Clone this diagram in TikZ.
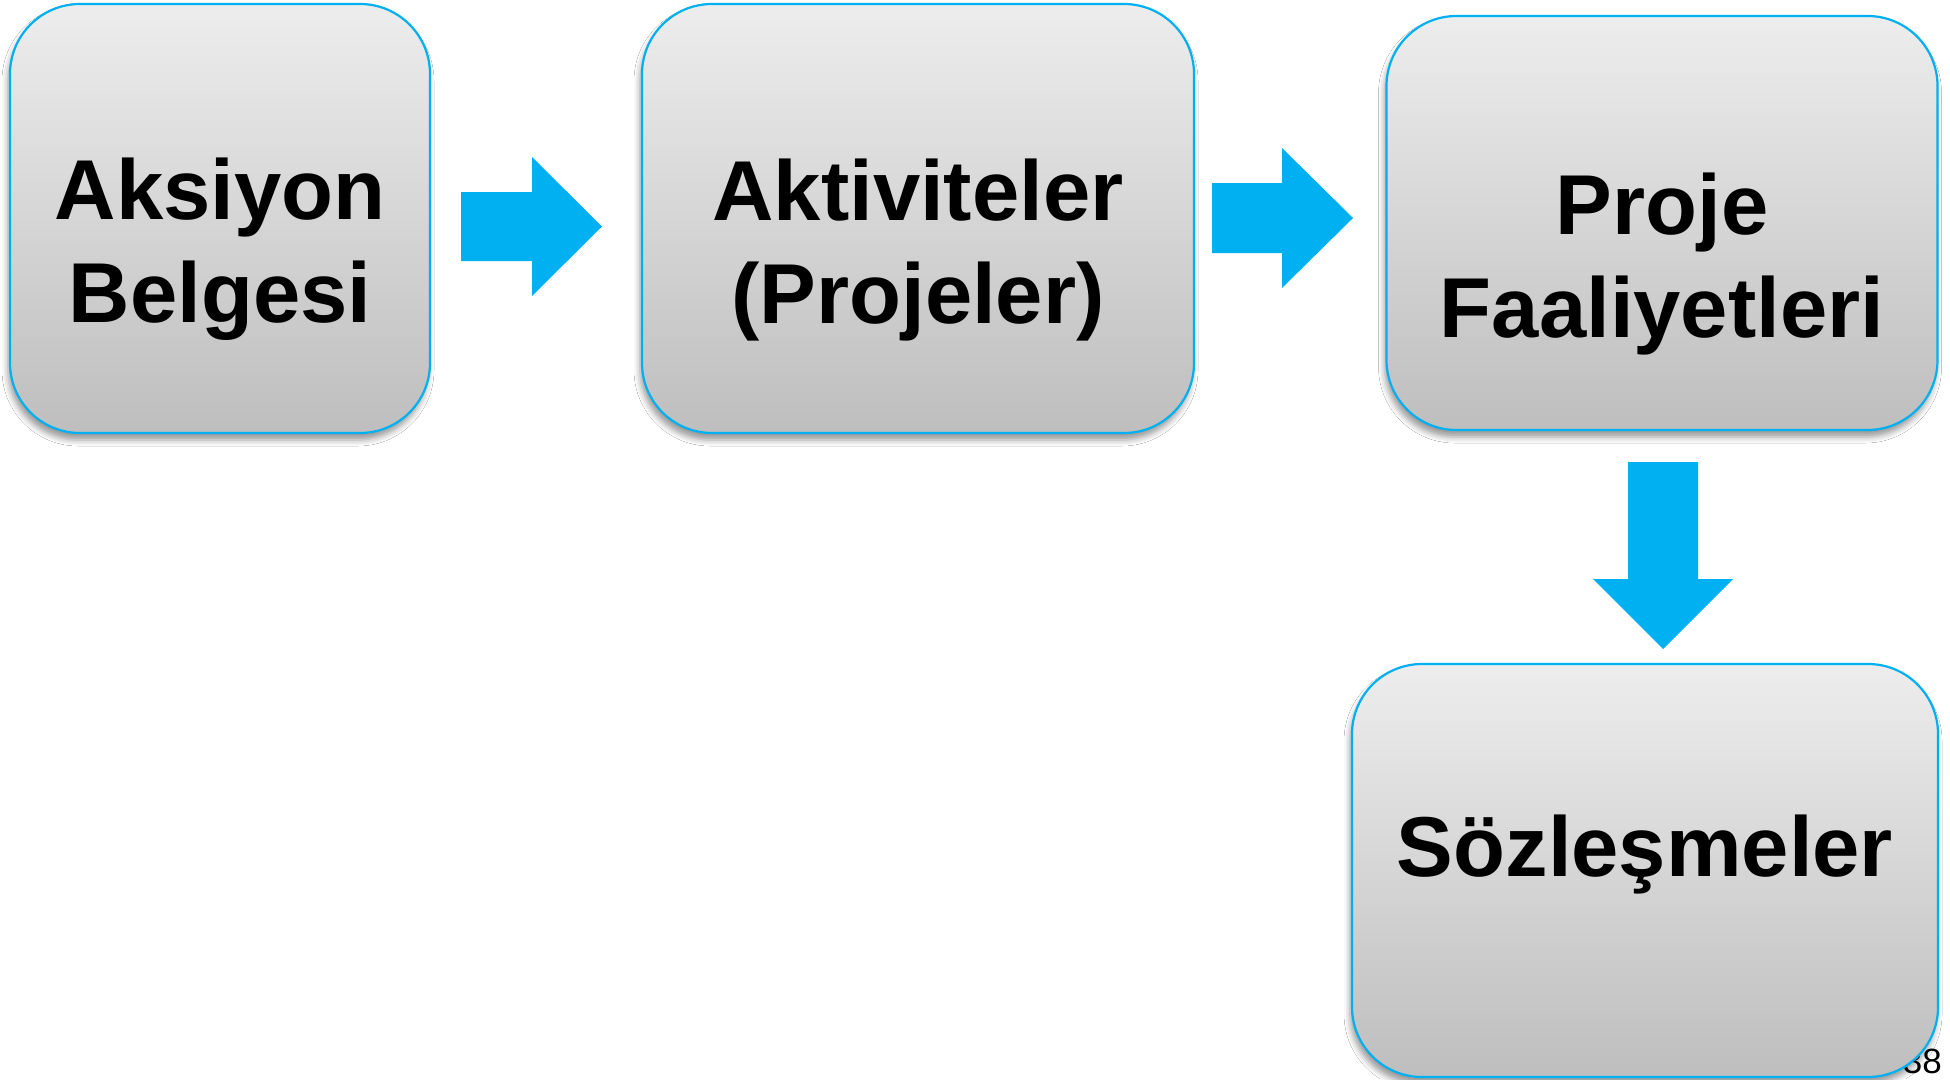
\documentclass[tikz,border=0pt]{standalone}
\usepackage{fontspec}
\setmainfont{Liberation Sans}
\usetikzlibrary{shadows.blur}
\definecolor{pptcyan}{HTML}{00B0F0}
\definecolor{gtop}{HTML}{EDEDED}
\definecolor{gbot}{HTML}{BEBEBE}
\tikzset{
  stagebox/.style={draw=pptcyan, line width=2.2pt, rounded corners=70pt,
    top color=gtop, bottom color=gbot, inner sep=0pt,
    blur shadow={shadow xshift=-2pt, shadow yshift=-7pt, shadow blur radius=6pt, shadow opacity=40}},
  stagetext/.style={font=\fontsize{85}{103}\selectfont\bfseries, align=center, inner sep=0pt, anchor=north},
  blockarrow/.style={fill=pptcyan, draw=none},
  pagenum/.style={font=\fontsize{35}{40}\selectfont, inner sep=0pt, anchor=base east}
}
\begin{document}
\begin{tikzpicture}[x=1pt, y=-1pt]
  \useasboundingbox[fill=white] (0,0) rectangle (1950,1079);
  % page number (partly covered by the last box)
  \node[pagenum] (pg) at (1942,1073) {38};
  % boxes
  \node[stagebox, minimum width=420pt, minimum height=429pt] (b1) at (220,218.5) {};
  \node[stagebox, minimum width=552pt, minimum height=429pt] (b2) at (918,218.5) {};
  \node[stagebox, minimum width=551pt, minimum height=414pt] (b3) at (1662,223) {};
  \node[stagebox, minimum width=586pt, minimum height=413pt] (b4) at (1645,870.5) {};
  % texts
  \node[stagetext] (t1) at (220,158) {Aksiyon\\Belgesi};
  \node[stagetext] (t2) at (918,159) {Aktiviteler\\(Projeler)};
  \node[stagetext] (t3) at (1662,173) {Proje\\Faaliyetleri};
  \node[stagetext] (t4) at (1645,815) {Sözleşmeler};
  % block arrows
  \fill[blockarrow] (461,192) -- (532,192) -- (532,157) -- (602,226.5) -- (532,296) -- (532,261) -- (461,261) -- cycle;
  \fill[blockarrow] (1212,183) -- (1282,183) -- (1282,148) -- (1353,218) -- (1282,288) -- (1282,253) -- (1212,253) -- cycle;
  \fill[blockarrow] (1628,462) -- (1698,462) -- (1698,579) -- (1733,579) -- (1663,649) -- (1593,579) -- (1628,579) -- cycle;
\end{tikzpicture}
\end{document}
